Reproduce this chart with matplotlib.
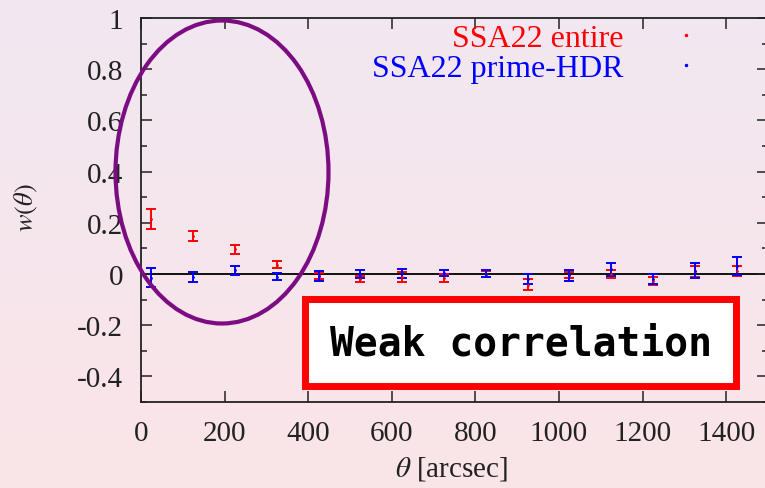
import numpy as np
import matplotlib
matplotlib.use("Agg")
import matplotlib.pyplot as plt
from matplotlib.lines import Line2D
from matplotlib.patches import Ellipse, Rectangle

# angular bins [arcsec]
theta = [25, 125, 225, 325, 425, 525, 625, 725, 825, 925, 1025, 1125, 1225, 1325, 1425]

# SSA22 entire
w_entire = [0.215, 0.148, 0.096, 0.037, -0.008, -0.019, -0.012, -0.016, 0.0, -0.042, -0.005, 0.0, -0.026, 0.010, 0.012]
err_entire = [0.040, 0.020, 0.017, 0.014, 0.011, 0.013, 0.018, 0.016, 0.012, 0.022, 0.012, 0.015, 0.016, 0.020, 0.020]

# SSA22 prime-HDR
w_prime = [-0.014, -0.012, 0.014, -0.010, -0.008, 0.0, 0.002, 0.004, 0.001, -0.021, -0.005, 0.018, -0.020, 0.012, 0.031]
err_prime = [0.037, 0.020, 0.017, 0.013, 0.018, 0.017, 0.016, 0.013, 0.014, 0.020, 0.021, 0.024, 0.020, 0.029, 0.035]

labels = ["SSA22 entire", "SSA22 prime-HDR"]
colors = ["#ff0000", "#0000ff"]

plt.rcParams["font.family"] = ["Liberation Serif", "DejaVu Serif"]
plt.rcParams["mathtext.fontset"] = "stix"

fig = plt.figure(figsize=(7.65, 4.89), dpi=100)

# slide background gradient
bg = fig.add_axes([0, 0, 1, 1], zorder=-10)
top = np.array([242, 232, 241]) / 255
bot = np.array([250, 228, 232]) / 255
t = np.linspace(0, 1, 256)[:, None]
grad = (top[None, :] * (1 - t) + bot[None, :] * t)[:, None, :]
bg.imshow(grad, aspect="auto", extent=[0, 1, 0, 1])
bg.set_axis_off()

ax = fig.add_axes([0.1843, 0.1759, 0.8196, 0.7853])
ax.set_facecolor("none")

ax.axhline(0, color="black", lw=1.3, zorder=1)

for y, e, c in [(w_entire, err_entire, colors[0]), (w_prime, err_prime, colors[1])]:
    ax.errorbar(theta, y, yerr=e, fmt=".", ms=2, color=c, ecolor=c,
                elinewidth=1.4, capsize=3.3, capthick=1.4, zorder=3)

ax.set_xlim(0, 1500)
ax.set_ylim(-0.5, 1.0)
ax.set_xticks(np.arange(0, 1401, 200))
ax.set_yticks([-0.4, -0.2, 0, 0.2, 0.4, 0.6, 0.8, 1.0])
ax.set_yticklabels(["-0.4", "-0.2", "0", "0.2", "0.4", "0.6", "0.8", "1"])
ax.set_yticks(np.arange(-0.5, 1.01, 0.1), minor=True)
ax.tick_params(which="both", direction="in", top=True, right=True,
               width=1.1, color="#222222", labelsize=21, labelcolor="#222222")
ax.tick_params(which="major", length=8, pad=13)
ax.tick_params(which="minor", length=4)
for s in ax.spines.values():
    s.set_linewidth(1.3)
    s.set_color("#222222")

ax.set_xlabel(r"$\theta$ [arcsec]", fontsize=21, color="#222222")
ax.xaxis.set_label_coords(0.496, -0.135)
ax.set_ylabel(r"$w(\theta)$", fontsize=19, color="#222222")
ax.yaxis.set_label_coords(-0.161, 0.508)

handles = [Line2D([], [], ls="none", marker=".", ms=3, color=c) for c in colors]
leg = ax.legend(handles, labels, loc="upper right", bbox_to_anchor=(0.9665, 1.059),
                frameon=False, markerfirst=False, fontsize=23, handlelength=2.0,
                handletextpad=0.97, labelspacing=0.0, labelcolor="linecolor")

# annotations on the slide
fig.patches.append(Ellipse((0.2902, 0.6462), 0.2784, 0.6196, fill=False,
                           edgecolor="#7b0c82", lw=3, transform=fig.transFigure,
                           figure=fig, zorder=5))
fig.patches.append(Rectangle((0.3993, 0.2096), 0.5634, 0.1759, facecolor="white",
                             edgecolor="#ff0000", lw=5, transform=fig.transFigure,
                             figure=fig, zorder=5))
fig.text(0.681, 0.2965, "Weak correlation", ha="center", va="center",
         fontsize=28.5, fontweight="bold", family=["DejaVu Sans Mono"], zorder=6)

fig.savefig("out.png", dpi=100)
